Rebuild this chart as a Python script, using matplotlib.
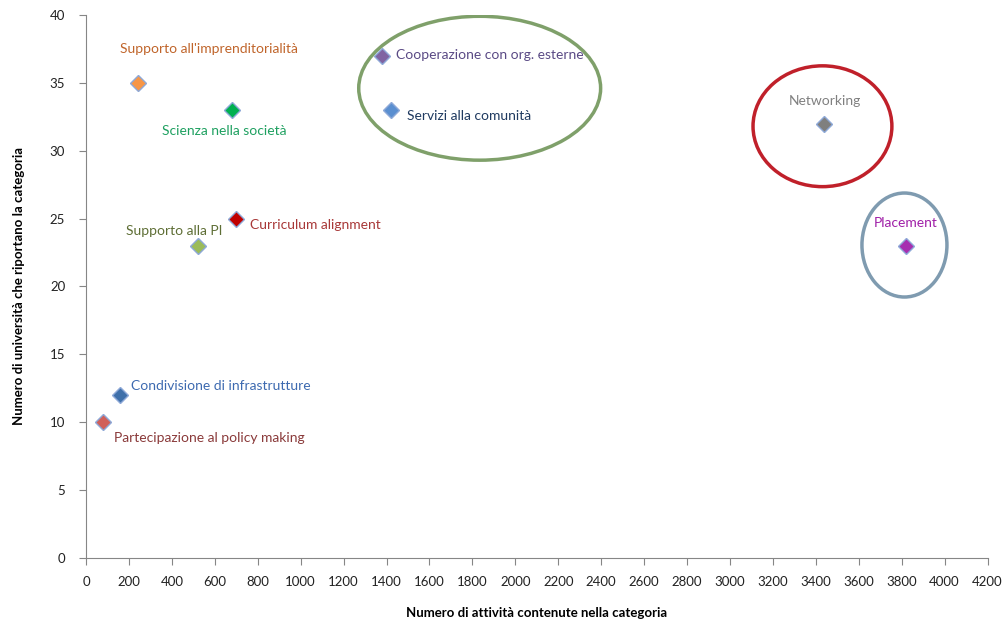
import matplotlib
matplotlib.use("Agg")
import matplotlib.pyplot as plt
from matplotlib.patches import Ellipse

plt.rcParams['font.family'] = ['Lato', 'DejaVu Sans']

# categorie e valori
categorie = [
    "Supporto all'imprenditorialità",
    "Scienza nella società",
    "Curriculum alignment",
    "Supporto alla PI",
    "Cooperazione con org. esterne",
    "Servizi alla comunità",
    "Networking",
    "Placement",
    "Condivisione di infrastrutture",
    "Partecipazione al policy making",
]
attivita = [240, 680, 700, 520, 1380, 1420, 3440, 3820, 160, 80]
universita = [35, 33, 25, 23, 37, 33, 32, 23, 12, 10]

colori_punti = ['#F79646', '#00B050', '#C00000', '#9BBB59', '#8064A2',
                '#5B8FD0', '#7F7F7F', '#A62FB0', '#3F70AA', '#D0605A']
colori_testo = ['#C0652B', '#1EA060', '#A83838', '#5E6E35', '#5A4A85',
                '#1F3A60', '#808080', '#A020A8', '#3D6AB0', '#8A3A3A']
# spostamento etichette (pixel) e allineamento
offset = [(71, 34, 'center'), (-8, -21, 'center'), (14, -6, 'left'),
          (-23, 15, 'center'), (14, 1, 'left'), (16, -6, 'left'),
          (0, 23, 'center'), (0, 23, 'center'), (11, 9, 'left'),
          (11, -16, 'left')]

fig = plt.figure(figsize=(10.05, 6.22), dpi=100)
ax = fig.add_axes([0.0856, 0.103, 0.897, 0.873])

for x, y, c, lab, tc, (dx, dy, ha) in zip(attivita, universita, colori_punti,
                                           categorie, colori_testo, offset):
    ax.plot(x, y, marker='D', markersize=8, color=c, markeredgecolor='#8EA9D8',
            markeredgewidth=1.0, linestyle='none', zorder=3)
    ax.annotate(lab, (x, y), xytext=(dx, dy), textcoords='offset pixels',
                ha=ha, va='center', fontsize=10, color=tc)

# ellissi di evidenziazione
ax.add_patch(Ellipse((1834, 34.6), 1127, 10.6, fill=False,
                     edgecolor='#7FA06A', linewidth=2.5, zorder=2))
ax.add_patch(Ellipse((3431, 31.8), 647, 8.9, fill=False,
                     edgecolor='#C0202A', linewidth=2.5, zorder=2))
ax.add_patch(Ellipse((3813, 23.05), 396, 7.66, fill=False,
                     edgecolor='#7F9BB0', linewidth=2.5, zorder=2))

ax.set_xlim(0, 4200)
ax.set_ylim(0, 40)
ax.set_xticks(range(0, 4201, 200))
ax.set_yticks(range(0, 41, 5))

for lato in ['top', 'right']:
    ax.spines[lato].set_visible(False)
for lato in ['left', 'bottom']:
    ax.spines[lato].set_color('#868686')
ax.tick_params(axis='both', direction='out', length=5, color='#868686',
               labelsize=9.5, labelcolor='#222222')
ax.tick_params(axis='x', pad=8)
ax.tick_params(axis='y', pad=10)

ax.set_xlabel("Numero di attività contenute nella categoria", fontsize=9.5,
              fontweight='bold', labelpad=14)
ax.set_ylabel("Numero di università che riportano la categoria", fontsize=9.5,
              fontweight='bold', labelpad=18)

fig.savefig("out.png", dpi=100)
